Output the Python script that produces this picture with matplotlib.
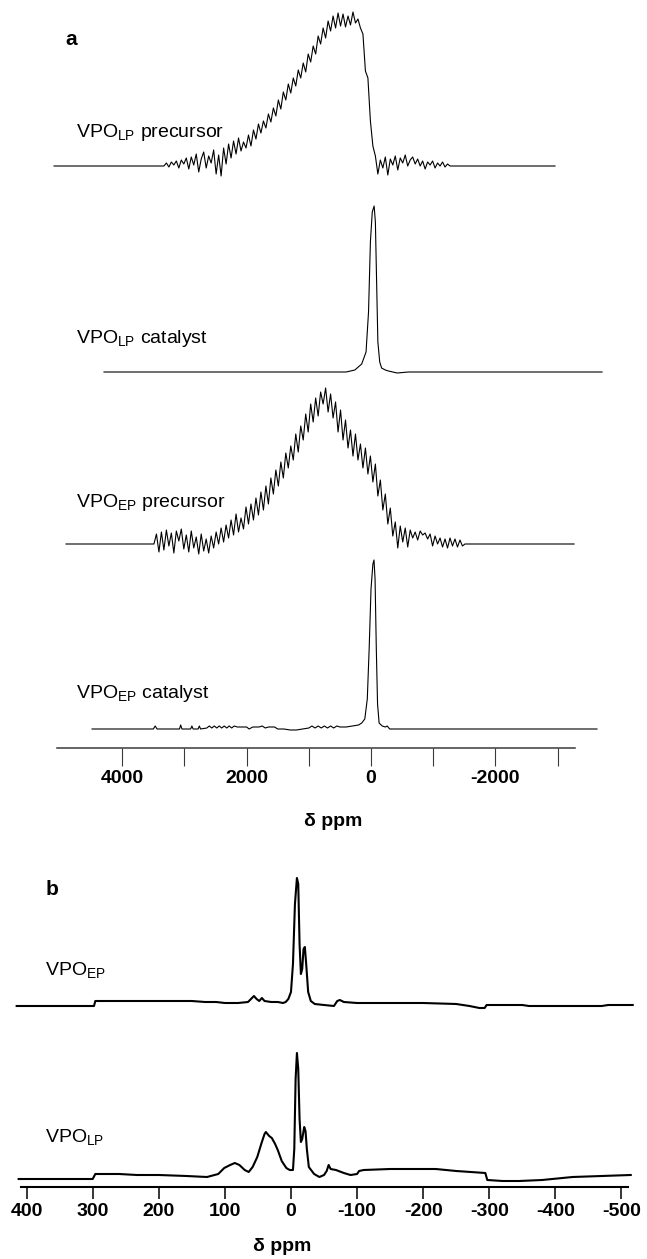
import numpy as np
import matplotlib.pyplot as plt

plt.rcParams['font.family'] = ['Liberation Sans', 'DejaVu Sans']
plt.rcParams['mathtext.fontset'] = 'custom'
plt.rcParams['mathtext.rm'] = 'Liberation Sans'

W, H = 647, 1259

# ---- panel a : wide-line spectra (ppm, intensity a.u.) ----
lp_pre_ppm = np.arange(3330, -1271, -40)
lp_pre_int = [0, 3, -1, 4, 1, 5, -2, 6, 2, 8, -3, 9, 1, 12, -6, 7, 14, -2, 10, 3,
              16, -8, 11, -10, 18, 2, 22, 8, 25, 12, 28, 15, 24, 18, 31, 20, 36, 27, 42, 33,
              45, 38, 52, 44, 58, 50, 66, 57, 74, 66, 82, 73, 88, 80, 96, 88, 103, 94, 112, 104,
              120, 112, 130, 122, 138, 128, 145, 135, 150, 138, 153, 140, 152, 139, 150, 141, 154, 143, 147, 138,
              132, 95, 88, 45, 20, 10, -8, 6, -2, 9, -9, 7, 1, 10, -4, 8, 3, 11, 0, 6,
              9, 2, 7, 0, 5, -3, 4, 1, 5, -2, 3, 0, 4, -1, 2, 0]
lp_pre_ends = [5096, -2958]

lp_cat_ppm = [4293, 400, 260, 150, 80, 40, 10, -20, -50, -70, -90, -110, -140, -170, -230, -280, -420, -600, -3714]
lp_cat_int = [0, 0, 2, 8, 20, 60, 130, 160, 166, 150, 90, 30, 10, 4, 2, 1, -1, 0, 0]

ep_pre_ppm = np.arange(3490, -1511, -40)
ep_pre_int = [0, 10, -8, 12, -6, 14, -2, 11, -9, 13, 3, 15, -5, 9, -8, 13, -4, 7, -10, 10,
              -7, 5, -9, 8, -4, 12, 0, 16, 2, 19, 6, 24, 9, 30, 12, 26, 15, 37, 20, 40,
              24, 46, 29, 52, 34, 58, 40, 66, 50, 74, 58, 82, 66, 91, 76, 98, 84, 110, 92, 118,
              104, 130, 112, 140, 122, 146, 128, 152, 140, 156, 132, 150, 126, 142, 112, 134, 104, 124, 96, 114,
              88, 110, 84, 100, 76, 96, 70, 88, 62, 80, 48, 64, 34, 50, 20, 36, 8, 22, -4, 18,
              2, 16, -3, 14, 6, 12, 4, 13, 9, 11, 5, 10, -2, 8, 0, 6, -3, 5, -4, 6,
              -2, 5, -3, 4, -2, 0]
ep_pre_ends = [4904, -3264]

ep_cat_ppm = [4485, 3500, 3470, 3440, 3080, 3060, 3040, 2900, 2880, 2860, 2780, 2760, 2740,
              2640, 2600, 2560, 2520, 2480, 2440, 2400, 2360, 2320, 2280, 2240, 2200, 2150,
              2000, 1960, 1900, 1800, 1750, 1700, 1650, 1550, 1500, 1400, 1300, 1200, 1100,
              1000, 950, 900, 850, 800, 750, 700, 650, 600, 550, 500, 400, 300, 200, 150, 100,
              60, 30, 0, -30, -48, -65, -85, -105, -130, -180, -230, -260, -300, -3633]
ep_cat_int = [0, 0, 3, 0, 0, 4, 0, 0, 3, 0, 0, 3, 0,
              1, 3, 1, 3, 1, 3, 1, 3, 1, 3, 1, 3, 2,
              2, 0, 2, 2, 3, 1, 2, 2, 0, 0, -1, -1, 0,
              1, 3, 1, 3, 1, 3, 1, 3, 1, 3, 2, 2, 3, 4, 6, 10,
              30, 80, 140, 165, 169, 150, 80, 25, 6, 3, 2, 3, 0, 0]

# ---- panel b : MAS spectra ----
b_ep_ppm = [415, 380, 340, 298, 296, 250, 200, 150, 130, 113, 100, 80, 65, 56, 52, 48, 44, 40,
            30, 20, 12, 8, 4, 0, -3, -6, -9, -11, -13, -15, -17, -19, -21, -23, -26, -30, -36,
            -50, -65, -70, -74, -80, -100, -150, -200, -250, -270, -285, -293, -296, -330, -350,
            -360, -400, -470, -480, -517]
b_ep_int = [-2, -2, -2, -2, 3, 3, 3, 3, 2, 2, 1, 1, 2, 8, 5, 3, 6, 3,
            2, 2, 1, 2, 5, 12, 40, 100, 126, 120, 60, 30, 35, 55, 57, 40, 12, 3, 0,
            -1, -2, 3, 4, 2, 1, 1, 1, 0, -2, -4, -4, -1, -1, -1,
            -2, -2, -2, -1, -1]

b_lp_ppm = [412, 300, 296, 260, 233, 200, 158, 127, 110, 101, 92, 85, 78, 70, 64, 58, 51, 45,
            40, 38, 33, 29, 24, 20, 14, 7, 2, -3, -5, -7, -9, -11, -13, -15, -17, -20, -22,
            -24, -27, -35, -43, -50, -54, -57, -60, -68, -80, -90, -100, -103, -110, -150,
            -200, -219, -250, -294, -297, -320, -345, -380, -426, -470, -514]
b_lp_int = [0, 0, 5, 5, 4, 4, 3, 2, 5, 11, 14, 16, 14, 9, 7, 12, 22, 35,
            45, 47, 43, 41, 35, 29, 18, 11, 9, 9, 30, 100, 126, 110, 60, 37, 40, 52, 48,
            30, 12, 5, 2, 4, 8, 14, 10, 9, 6, 4, 5, 8, 9, 10,
            10, 10, 8, 6, -1, -2, -2, -1, 2, 3, 4]

a_major = [4000, 2000, 0, -2000]
a_minor = [3000, 1000, -1000, -3000]
b_ticks = [400, 300, 200, 100, 0, -100, -200, -300, -400, -500]

fig = plt.figure(figsize=(W / 100, H / 100), dpi=100)


def fx(x):
    return x / W


def fy(y):
    return 1 - y / H


# panel a
axa = fig.add_axes([0, fy(748), 1, 748 / H])
axa.set_xlim(5965, -4437)
axa.set_ylim(0, 748)
offs_a = [582, 376, 204, 19]
traces_a = [
    (np.concatenate([[lp_pre_ends[0]], lp_pre_ppm, [lp_pre_ends[1]]]), np.concatenate([[0], lp_pre_int, [0]])),
    (np.array(lp_cat_ppm), np.array(lp_cat_int)),
    (np.concatenate([[ep_pre_ends[0]], ep_pre_ppm, [ep_pre_ends[1]]]), np.concatenate([[0], ep_pre_int, [0]])),
    (np.array(ep_cat_ppm), np.array(ep_cat_int)),
]
for (x, y), off in zip(traces_a, offs_a):
    axa.plot(x, np.asarray(y, float) + off, color='black', lw=0.8)

for s in ['left', 'right', 'top']:
    axa.spines[s].set_visible(False)
axa.spines['bottom'].set_bounds(5050, -3280)
axa.spines['bottom'].set_color('#3a3a3a')
axa.spines['bottom'].set_linewidth(1.1)
axa.set_yticks([])
axa.set_xticks(a_major)
axa.set_xticks(a_minor, minor=True)
axa.set_xticklabels([str(v) for v in a_major], fontsize=14, fontweight='bold')
axa.tick_params(axis='x', which='both', direction='out', length=13, width=0.8,
                color='#3a3a3a', pad=3)

fig.text(fx(333), fy(813), 'δ ppm', ha='center', va='top', fontsize=14, fontweight='bold')
fig.text(fx(65), fy(45), 'a', ha='left', va='baseline', fontsize=15, fontweight='bold')

labels_a = [('VPO$_{\\mathregular{LP}}$ precursor', 137),
            ('VPO$_{\\mathregular{LP}}$ catalyst', 343),
            ('VPO$_{\\mathregular{EP}}$ precursor', 507),
            ('VPO$_{\\mathregular{EP}}$ catalyst', 698)]
for txt, yb in labels_a:
    fig.text(fx(76), fy(yb), txt, ha='left', va='baseline', fontsize=14)

# panel b
axb = fig.add_axes([0, fy(1187), 1, 337 / H])
axb.set_xlim(440.2, -538.6)
axb.set_ylim(0, 337)
axb.plot(b_ep_ppm, np.array(b_ep_int, float) + 183, color='black', lw=1.5)
axb.plot(b_lp_ppm, np.array(b_lp_int, float) + 8, color='black', lw=1.5)
for s in ['left', 'right', 'top']:
    axb.spines[s].set_visible(False)
axb.spines['bottom'].set_bounds(408, -510)
axb.spines['bottom'].set_linewidth(1.5)
axb.set_yticks([])
axb.set_xticks(b_ticks)
axb.set_xticklabels([str(v) for v in b_ticks], fontsize=14, fontweight='bold')
axb.tick_params(axis='x', direction='out', length=8.5, width=1.1, pad=3)

fig.text(fx(282), fy(1238), 'δ ppm', ha='center', va='top', fontsize=14, fontweight='bold')
fig.text(fx(46), fy(895), 'b', ha='left', va='baseline', fontsize=15, fontweight='bold')
fig.text(fx(45), fy(976), 'VPO$_{\\mathregular{EP}}$', ha='left', va='baseline', fontsize=14)
fig.text(fx(45), fy(1143), 'VPO$_{\\mathregular{LP}}$', ha='left', va='baseline', fontsize=14)

fig.savefig('out.png', dpi=100)
